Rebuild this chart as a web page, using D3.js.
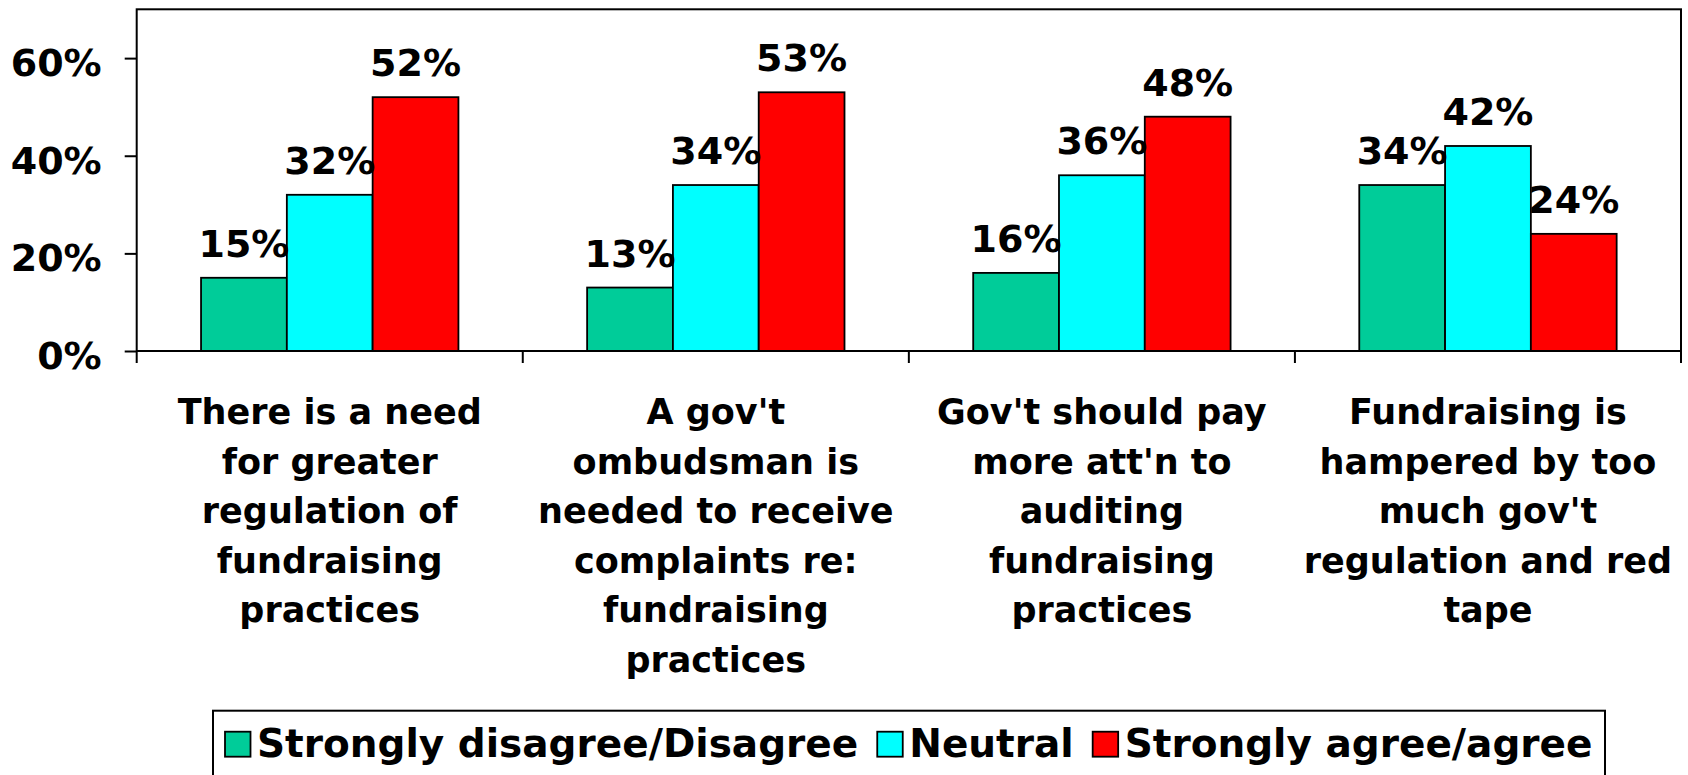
<!DOCTYPE html>
<html>
<head>
<meta charset="utf-8">
<script src="https://cdn.jsdelivr.net/npm/d3@7"></script>
<style>
  html, body { margin: 0; padding: 0; background: #fff; }
  svg { display: block; }
  text { font-family: "DejaVu Sans", Verdana, sans-serif; font-weight: bold; fill: #000; }
</style>
</head>
<body>
<svg id="chart" width="1688" height="775"></svg>
<script>
// Survey statements (wrapped lines for the axis labels)
const categories = [
  ["There is a need", "for greater", "regulation of", "fundraising", "practices"],
  ["A gov't", "ombudsman is", "needed to receive", "complaints re:", "fundraising", "practices"],
  ["Gov't should pay", "more att'n to", "auditing", "fundraising", "practices"],
  ["Fundraising is", "hampered by too", "much gov't", "regulation and red", "tape"]
];
const seriesNames = ["Strongly disagree/Disagree", "Neutral", "Strongly agree/agree"];
const seriesColors = ["#00CC99", "#00FFFF", "#FF0000"];
const disagreeValues = [15, 13, 16, 34];
const neutralValues = [32, 34, 36, 42];
const agreeValues = [52, 53, 48, 24];
const yTickValues = [0, 20, 40, 60];

const series = [disagreeValues, neutralValues, agreeValues];

const svg = d3.select("#chart");
const plot = { left: 136.7, top: 9.3, right: 1681, bottom: 351 };

const x0 = d3.scaleBand().domain(d3.range(categories.length)).range([plot.left, plot.right]);
const bw = x0.bandwidth();
const gap = bw * 1.5 / 4.5;
const x1 = d3.scaleBand().domain(d3.range(series.length)).range([gap / 2, bw - gap / 2]);
const y = d3.scaleLinear().domain([0, 70]).range([plot.bottom, plot.top]);

// Bars
const groups = svg.append("g").selectAll("g")
  .data(categories.map((c, i) => i))
  .join("g")
  .attr("transform", i => `translate(${x0(i)},0)`);

groups.selectAll("rect")
  .data(i => series.map((s, k) => ({ k, v: s[i] })))
  .join("rect")
  .attr("x", d => x1(d.k))
  .attr("y", d => y(d.v))
  .attr("width", x1.bandwidth())
  .attr("height", d => y(0) - y(d.v))
  .attr("fill", d => seriesColors[d.k])
  .attr("stroke", "#000")
  .attr("stroke-width", 1.8);

// Value labels
groups.selectAll("text.val")
  .data(i => series.map((s, k) => ({ k, v: s[i] })))
  .join("text")
  .attr("class", "val")
  .attr("x", d => x1(d.k) + x1.bandwidth() / 2)
  .attr("y", d => y(d.v) - 21)
  .attr("text-anchor", "middle")
  .style("font-size", "38px")
  .text(d => d.v + "%");

// Plot frame
svg.append("rect")
  .attr("x", plot.left).attr("y", plot.top)
  .attr("width", plot.right - plot.left).attr("height", plot.bottom - plot.top)
  .attr("fill", "none").attr("stroke", "#000").attr("stroke-width", 2);

// Y axis
const yAxis = svg.append("g")
  .attr("transform", `translate(${plot.left},0)`)
  .call(d3.axisLeft(y).tickValues(yTickValues).tickSize(12).tickPadding(23).tickFormat(d => d + "%"));
yAxis.select(".domain").remove();
yAxis.selectAll(".tick line").attr("stroke", "#000").attr("stroke-width", 2);
yAxis.selectAll(".tick text")
  .attr("dy", "17.5px")
  .style("font-size", "38px")
  .style("font-family", "'DejaVu Sans', Verdana, sans-serif")
  .style("font-weight", "bold")
  .attr("fill", "#000");

// Category boundary ticks
svg.append("g").selectAll("line")
  .data(d3.range(categories.length + 1))
  .join("line")
  .attr("x1", i => i < categories.length ? x0(i) : x0(i - 1) + bw)
  .attr("x2", i => i < categories.length ? x0(i) : x0(i - 1) + bw)
  .attr("y1", plot.bottom).attr("y2", plot.bottom + 12)
  .attr("stroke", "#000").attr("stroke-width", 2);

// Category labels
svg.append("g").selectAll("text")
  .data(categories)
  .join("text")
  .attr("text-anchor", "middle")
  .style("font-size", "35px")
  .each(function (lines, i) {
    const t = d3.select(this);
    lines.forEach((ln, j) => {
      t.append("tspan")
        .attr("x", x0(i) + bw / 2)
        .attr("y", 424.3 + j * 49.5)
        .text(ln);
    });
  });

// Legend
const legendBox = { left: 213, top: 710.7, right: 1605 };
svg.append("rect")
  .attr("x", legendBox.left).attr("y", legendBox.top)
  .attr("width", legendBox.right - legendBox.left).attr("height", 100)
  .attr("fill", "none").attr("stroke", "#000").attr("stroke-width", 2);

const legend = svg.append("g").attr("transform", "translate(225,0)");
let cx = 0;
seriesNames.forEach((name, k) => {
  const item = legend.append("g").attr("transform", `translate(${cx},0)`);
  item.append("rect")
    .attr("x", 0).attr("y", 731.7)
    .attr("width", 25.5).attr("height", 25)
    .attr("fill", seriesColors[k]).attr("stroke", "#000").attr("stroke-width", 1.8);
  const t = item.append("text")
    .attr("x", 32).attr("y", 757)
    .style("font-size", "39px")
    .text(name);
  cx += 32 + t.node().getComputedTextLength() + 19;
});
</script>
</body>
</html>
